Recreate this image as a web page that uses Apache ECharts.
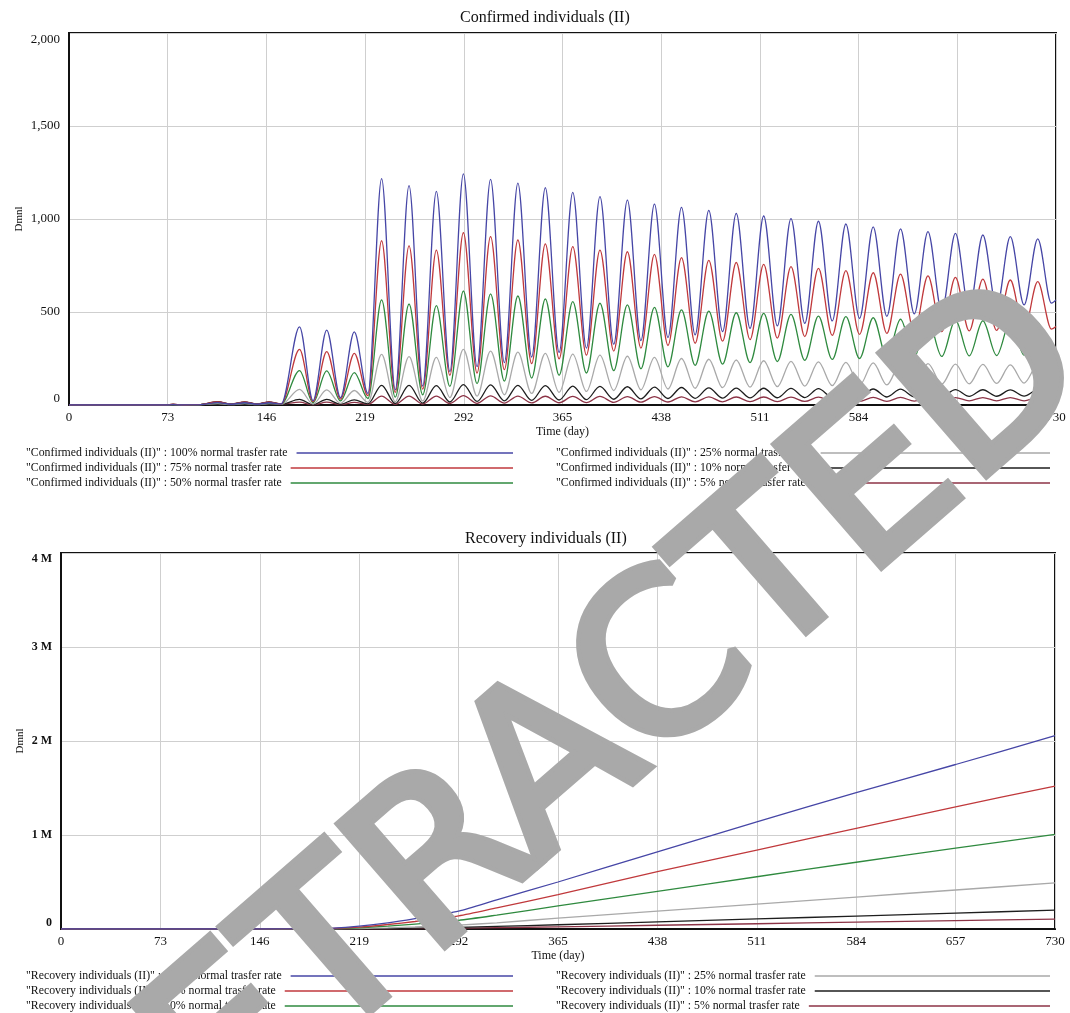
<!DOCTYPE html>
<html><head><meta charset="utf-8">
<script src="https://cdn.jsdelivr.net/npm/echarts@6/dist/echarts.min.js"></script>
<style>html,body{margin:0;padding:0;background:#fff}#c{width:1070px;height:1013px}</style>
</head><body><div id="c"></div><script>
// ---------- data ----------
const rateLabels = ['100% normal trasfer rate','75% normal trasfer rate','50% normal trasfer rate','25% normal trasfer rate','10% normal trasfer rate','5% normal trasfer rate'];
const xTicks = [0, 73, 146, 219, 292, 365, 438, 511, 584, 657, 730];

// Confirmed individuals: early phase, then peak / trough days
const earlyDays  = [0, 72, 77, 83, 96, 110, 120, 130, 139, 148, 157];
const peakDays   = [170.5, 190.6, 211, 231.2, 251.5, 271.7, 291.7, 311.8, 332, 352.3, 372.6, 392.7, 413, 433, 453, 473.2, 493.5, 513.8, 534, 554.3, 574.6, 594.8, 615, 635.3, 655.6, 675.9, 696.2, 716.5];
const troughDays = [180.5, 200.8, 221.1, 241.3, 261.6, 281.7, 301.8, 322, 342.2, 362.5, 382.7, 402.9, 423, 443, 463.1, 483.4, 503.7, 523.9, 544.2, 564.5, 584.7, 604.9, 625.2, 645.5, 665.8, 686.1, 706.4, 726.6];
const endDay = 730;

const conf100Early = [0,0,2,0,1,13,4,12,4,12,6];
const conf100Peaks = [420,403,393,1217,1179,1148,1243,1213,1193,1168,1143,1120,1102,1080,1062,1046,1030,1016,1002,988,973,958,947,932,923,914,905,893];
const conf100Troughs = [23,40,62,82,102,180,206,228,258,283,306,327,346,363,377,394,412,425,439,452,465,476,490,503,512,524,538,548];
const conf100End = 565;

const conf75Early = [0,0,3,0,2,16,5,15,5,15,6];
const conf75Peaks = [299,287,278,883,855,833,926,905,887,866,851,833,824,810,792,778,766,756,744,735,722,711,704,694,686,677,672,663];
const conf75Troughs = [18,32,50,68,85,160,172,190,222,248,268,290,306,320,332,343,352,360,368,374,380,385,390,394,398,401,404,408];
const conf75End = 422;

const conf50Early = [0,0,2,0,1,13,4,12,4,12,5];
const conf50Peaks = [185,183,174,565,543,534,613,597,586,570,556,547,538,525,511,505,496,493,487,478,475,469,461,461,457,453,448,443];
const conf50Troughs = [12,22,35,42,55,100,115,128,145,160,172,185,195,205,213,220,228,234,240,245,250,254,258,261,264,266,268,270];
const conf50End = 287;

const conf25Early = [0,0,1,0,1,8,2,8,2,8,3];
const conf25Peaks = [84,81,78,272,260,256,299,290,284,278,274,268,262,256,250,246,242,238,235,232,229,226,224,222,220,218,216,215];
const conf25Troughs = [5,9,14,18,22,40,48,55,62,68,73,78,82,86,90,93,96,99,102,104,106,108,110,112,114,116,118,120];
const conf25End = 134;

const conf10Early = [0,0,3,0,2,16,4,15,4,15,4];
const conf10Peaks = [30,30,28,106,105,104,110,108,106,104,102,100,98,96,94,92,91,90,89,88,87,86,85,84,83,82,81,81];
const conf10Troughs = [2,4,6,8,10,16,19,22,25,27,29,31,33,35,36,37,38,39,40,41,42,43,44,45,46,47,48,48];
const conf10End = 54;

const conf5Early = [0,0,4,0,2,18,5,17,5,17,5];
const conf5Peaks = [15,15,14,48,48,48,50,49,48,47,46,46,45,45,44,44,43,43,42,42,42,41,41,41,40,40,40,40];
const conf5Troughs = [1,2,3,4,5,8,9,10,11,12,13,14,15,16,17,17,18,18,19,19,20,20,21,21,22,22,22,23];
const conf5End = 26;

// Recovery individuals
const recDays = [0, 150, 175, 200, 219, 240, 260, 292, 320, 365, 438, 511, 584, 657, 730];
const rec100 = [0,0,2000,10000,30000,65000,110000,190000,310000,500000,820000,1140000,1450000,1750000,2056000];
const rec75  = [0,0,1500,7000,20000,48000,80000,140000,225000,365000,610000,840000,1070000,1300000,1520000];
const rec50  = [0,0,1000,4500,12000,30000,52000,92000,148000,245000,400000,556000,710000,860000,1007000];
const rec25  = [0,0,400,2000,5000,13000,23000,42000,66000,115000,190000,265000,340000,415000,490000];
const rec10  = [0,0,150,700,2000,5000,9000,17000,27000,45000,76000,107000,138000,169000,200000];
const rec5   = [0,0,80,350,1000,2600,4600,9000,14000,23000,40000,56000,73000,90000,106000];

// ---------- build ----------
const colors = ['#4646a6','#c0393c','#2f8a3f','#a9a9a9','#1e1e1e','#8c3346'];
const FONT = '"Liberation Serif","Times New Roman",serif';

function buildConf(early, peaks, troughs, end) {
  const d = earlyDays.map((t, i) => [t, early[i]]);
  for (let i = 0; i < peakDays.length; i++) {
    d.push([peakDays[i], peaks[i]]);
    d.push([troughDays[i], troughs[i]]);
  }
  d.push([endDay, end]);
  return d;
}
const confData = [
  buildConf(conf100Early, conf100Peaks, conf100Troughs, conf100End),
  buildConf(conf75Early, conf75Peaks, conf75Troughs, conf75End),
  buildConf(conf50Early, conf50Peaks, conf50Troughs, conf50End),
  buildConf(conf25Early, conf25Peaks, conf25Troughs, conf25End),
  buildConf(conf10Early, conf10Peaks, conf10Troughs, conf10End),
  buildConf(conf5Early, conf5Peaks, conf5Troughs, conf5End)
];
const recVals = [rec100, rec75, rec50, rec25, rec10, rec5];
const recData = recVals.map(v => recDays.map((t, i) => [t, v[i]]));

const confNames = rateLabels.map(r => '"Confirmed individuals (II)" : ' + r);
const recNames = rateLabels.map(r => '"Recovery individuals (II)" : ' + r);

const series = [];
confData.forEach((d, i) => series.push({
  name: confNames[i], type: 'line', xAxisIndex: 0, yAxisIndex: 0, data: d,
  showSymbol: false, symbol: 'none', smooth: 0.33, smoothMonotone: 'x',
  lineStyle: { color: colors[i], width: 1.3 }, itemStyle: { color: colors[i] },
  z: 10 - i
}));
recData.forEach((d, i) => series.push({
  name: recNames[i], type: 'line', xAxisIndex: 1, yAxisIndex: 1, data: d,
  showSymbol: false, symbol: 'none', smooth: 0.25,
  lineStyle: { color: colors[i], width: 1.3 }, itemStyle: { color: colors[i] },
  z: 10 - i
}));

function xAxisCfg(gridIndex) {
  return {
    type: 'value', gridIndex, min: 0, max: 730, interval: 73,
    name: 'Time (day)', nameLocation: 'middle', nameGap: 21,
    nameTextStyle: { fontFamily: FONT, fontSize: 12, color: '#111' },
    axisLine: { show: true, lineStyle: { color: '#111', width: 2 } },
    axisTick: { show: false },
    axisLabel: { fontFamily: FONT, fontSize: 13, color: '#111', margin: 6 },
    splitLine: { show: true, lineStyle: { color: '#cfcfcf', width: 1 } }
  };
}

// legend: one component per row so text is left-aligned and each line ends at a fixed x
const LEG_FONT_SIZE = 11.8;
const measureCtx = document.createElement('canvas').getContext('2d');
measureCtx.font = LEG_FONT_SIZE + 'px "Liberation Serif"';
function legendRow(name, left, top, lineEnd) {
  const w = measureCtx.measureText(name).width;
  return {
    data: [name], left, top, orient: 'horizontal', align: 'right', padding: 0,
    icon: 'rect', itemWidth: Math.max(20, lineEnd - left - w - 9), itemHeight: 1.3, itemGap: 0,
    selectedMode: false,
    textStyle: { fontFamily: FONT, fontSize: LEG_FONT_SIZE, color: '#111', lineHeight: 15, padding: [0, 4, 0, 0] }
  };
}
const legends = [];
const confRowTops = [445.5, 460.5, 475.5];
const recRowTops = [968.5, 983.5, 998.5];
for (let i = 0; i < 3; i++) {
  legends.push(legendRow(confNames[i], 26, confRowTops[i], 513));
  legends.push(legendRow(confNames[i + 3], 556, confRowTops[i], 1050));
  legends.push(legendRow(recNames[i], 26, recRowTops[i], 513));
  legends.push(legendRow(recNames[i + 3], 556, recRowTops[i], 1050));
}

const option = {
  animation: false,
  backgroundColor: '#fff',
  title: [
    { text: 'Confirmed individuals (II)', left: 455, top: 5,
      textStyle: { fontFamily: FONT, fontSize: 16, fontWeight: 'normal', color: '#111' } },
    { text: 'Recovery individuals (II)', left: 460, top: 526,
      textStyle: { fontFamily: FONT, fontSize: 16, fontWeight: 'normal', color: '#111' } }
  ],
  grid: [
    { left: 69, right: 14, top: 33, height: 372, show: true, borderColor: '#111', borderWidth: 2, backgroundColor: 'transparent' },
    { left: 61, right: 15, top: 553, height: 376, show: true, borderColor: '#111', borderWidth: 2, backgroundColor: 'transparent' }
  ],
  xAxis: [xAxisCfg(0), xAxisCfg(1)],
  yAxis: [
    { type: 'value', gridIndex: 0, min: 0, max: 2000, interval: 500,
      name: 'Dmnl', nameLocation: 'middle', nameGap: 44, nameRotate: 90, nameMoveOverlap: false,
      nameTextStyle: { fontFamily: FONT, fontSize: 11, color: '#111' },
      axisLine: { show: true, lineStyle: { color: '#111', width: 2 } },
      axisTick: { show: false },
      axisLabel: { fontFamily: FONT, fontSize: 13, color: '#111', margin: 9,
        verticalAlignMinLabel: 'bottom', verticalAlignMaxLabel: 'top',
        formatter: v => v.toLocaleString('en-US') },
      splitLine: { show: true, lineStyle: { color: '#cfcfcf', width: 1 } } },
    { type: 'value', gridIndex: 1, min: 0, max: 4000000, interval: 1000000,
      name: 'Dmnl', nameLocation: 'middle', nameGap: 35, nameRotate: 90, nameMoveOverlap: false,
      nameTextStyle: { fontFamily: FONT, fontSize: 11, color: '#111' },
      axisLine: { show: true, lineStyle: { color: '#111', width: 2 } },
      axisTick: { show: false },
      axisLabel: { fontFamily: FONT, fontSize: 12, fontWeight: 'bold', color: '#111', margin: 9,
        verticalAlignMinLabel: 'bottom', verticalAlignMaxLabel: 'top',
        formatter: v => v === 0 ? '0' : (v / 1e6) + ' M' },
      splitLine: { show: true, lineStyle: { color: '#cfcfcf', width: 1 } } }
  ],
  legend: legends,
  graphic: [{
    type: 'text', x: 565, y: 765, rotation: 41 * Math.PI / 180, z: 200, silent: true,
    style: { text: 'RETRACTED', font: '220px "DejaVu Sans"', fill: '#a9a9a9', stroke: '#a9a9a9', lineWidth: 9,
      lineJoin: 'round', align: 'center', verticalAlign: 'middle' }
  }],
  series
};
const chart = echarts.init(document.getElementById('c'), null, { renderer: 'canvas' });
chart.setOption(option);
</script></body></html>
